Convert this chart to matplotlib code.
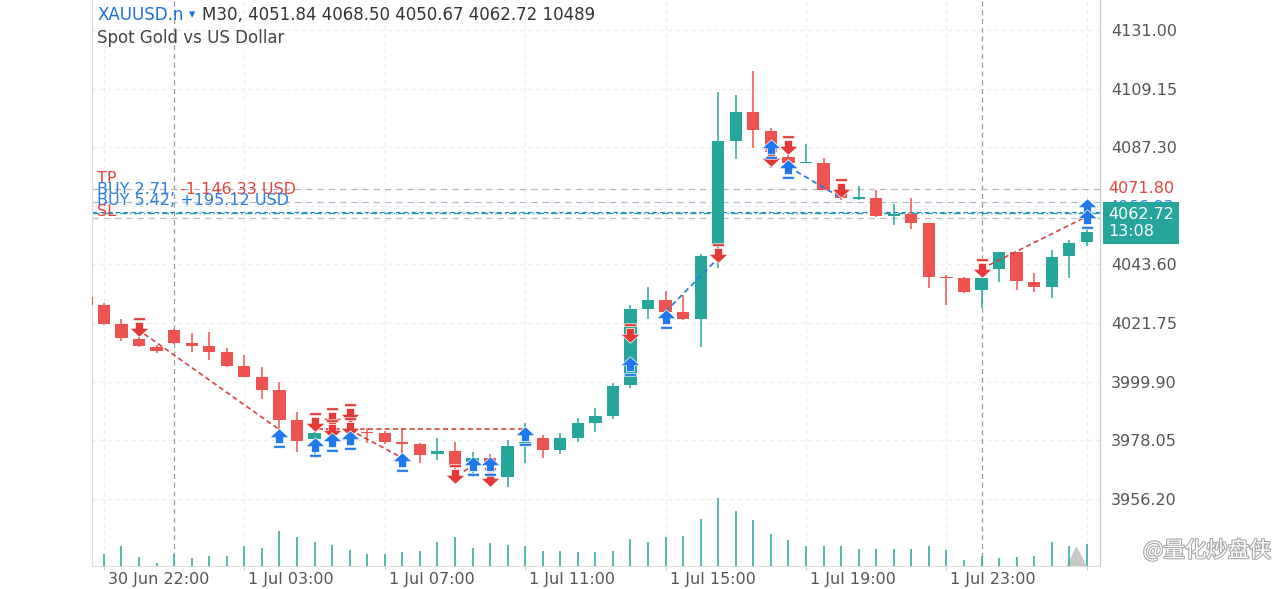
import matplotlib
matplotlib.use("Agg")
import matplotlib.pyplot as plt
import matplotlib.transforms as mtransforms
import matplotlib.patheffects as pe
from matplotlib.patches import Rectangle
from matplotlib.path import Path

# M30 bars, index -1 is the one cut off at the left edge
bars = list(range(-1, 57))
opens = [4031.6, 4028.5, 4021.3, 4015.8, 4012.7, 4019.2, 4014.2, 4013.2, 4011.1, 4005.8,
         4001.8, 3996.8, 3985.6, 3978.5, 3982.7, 3982.5, 3981.3, 3980.7, 3977.6, 3976.6,
         3973.0, 3974.1, 3970.1, 3971.6, 3964.3, 3976.3, 3978.8, 3974.5, 3978.8, 3984.6,
         3987.1, 3998.7, 4026.9, 4030.4, 4025.8, 4023.2, 4050.9, 4089.7, 4100.55, 4093.5,
         4083.55, 4081.3, 4081.55, 4070.7, 4068.1, 4068.3, 4061.7, 4062.4, 4059.0, 4039.05,
         4038.45, 4034.1, 4041.8, 4048.4, 4037.2, 4035.3, 4046.8, 4051.84]
highs = [4032.3, 4029.2, 4023.2, 4016.7, 4013.6, 4019.4, 4018.2, 4018.5, 4012.4, 4009.9,
         4005.5, 3999.9, 3988.7, 3981.3, 3983.5, 3983.5, 3982.5, 3981.5, 3982.5, 3977.2,
         3978.8, 3977.6, 3973.8, 3973.0, 3978.2, 3984.4, 3980.05, 3980.7, 3986.3, 3990.0,
         3999.3, 4028.5, 4035.3, 4033.8, 4032.2, 4047.5, 4108.0, 4106.8, 4115.8, 4094.4,
         4088.0, 4088.5, 4083.2, 4072.0, 4072.9, 4071.4, 4066.15, 4068.3, 4059.0, 4039.7,
         4038.8, 4040.0, 4048.4, 4048.4, 4040.3, 4049.0, 4052.7, 4057.0]
lows = [4028.0, 4021.0, 4015.2, 4012.9, 4010.5, 4013.8, 4011.1, 4008.0, 4005.5, 4001.5,
        3993.4, 3982.0, 3973.8, 3971.5, 3979.5, 3980.0, 3977.0, 3976.5, 3972.6, 3969.7,
        3970.7, 3967.0, 3964.5, 3960.6, 3960.6, 3969.5, 3971.4, 3973.0, 3977.6, 3981.3,
        3986.0, 3997.5, 4023.2, 4024.0, 4023.0, 4013.0, 4042.2, 4082.9, 4086.9, 4079.5,
        4079.0, 4081.3, 4071.4, 4067.5, 4067.6, 4061.4, 4058.3, 4056.7, 4034.7, 4028.5,
        4032.9, 4027.4, 4037.2, 4034.1, 4033.5, 4031.0, 4038.45, 4050.67]
closes = [4028.6, 4021.4, 4016.1, 4013.2, 4011.4, 4014.2, 4013.3, 4011.1, 4005.8, 4001.8,
          3996.8, 3985.6, 3977.9, 3980.7, 3981.2, 3981.5, 3980.7, 3977.6, 3976.7, 3972.6,
          3974.1, 3968.9, 3971.6, 3970.1, 3976.0, 3977.6, 3974.5, 3978.8, 3984.6, 3987.1,
          3998.3, 4026.9, 4030.4, 4026.0, 4023.2, 4046.9, 4089.7, 4100.55, 4093.7, 4085.6,
          4081.3, 4081.9, 4071.4, 4068.3, 4068.6, 4061.7, 4062.3, 4059.0, 4038.8, 4038.45,
          4033.2, 4038.45, 4048.4, 4037.55, 4035.3, 4046.5, 4051.7, 4055.8]
volumes = [6000, 5830, 9490, 4500, 1670, 5830, 3660, 5000, 5000, 9490,
           8660, 16650, 13820, 11660, 10320, 7830, 5830, 5830, 6660, 7160,
           11660, 13820, 8820, 10990, 10320, 9490, 7160, 7160, 6660, 6660,
           7160, 12820, 11660, 13820, 14490, 22480, 32800, 26310, 21980, 15320,
           12490, 9490, 9490, 9490, 8330, 8330, 8330, 8330, 9490, 7830,
           2830, 5000, 3660, 4500, 5000, 11660, 9490, 10489]

tick_bars = [0, 8, 16, 24, 32, 40, 48, 56]
tick_labels = ["30 Jun 22:00", "1 Jul 03:00", "1 Jul 07:00", "1 Jul 11:00",
               "1 Jul 15:00", "1 Jul 19:00", "1 Jul 23:00", ""]
day_breaks = [4, 50]
price_ticks = [3956.20, 3978.05, 3999.90, 4021.75, 4043.60, 4065.45, 4087.30, 4109.15, 4131.00]
hidden_ticks = [4065.45]

# deal markers
sell_bars = [2, 12, 13, 13, 14, 14, 20, 22, 30, 35, 38, 39, 42, 50]
sell_prices = [4020.3, 3984.9, 3986.6, 3982.3, 3988.25, 3983.0, 3965.6, 3964.4,
               4018.1, 4047.9, 4083.8, 4088.1, 4072.1, 4042.3]
buy_bars = [10, 12, 13, 14, 17, 21, 22, 24, 30, 32, 38, 39, 56, 56]
buy_prices = [3978.9, 3975.4, 3977.4, 3978.0, 3970.1, 3968.5, 3968.5, 3979.7,
              4005.8, 4023.3, 4086.6, 4079.2, 4064.8, 4060.6]

# dashed lines joining open/close of deals: x0, y0, x1, y1
red_links = [(2.3, 4017.7, 10, 3982.0), (12.2, 3982.3, 24, 3982.3), (14, 3982.0, 17, 3971.5),
             (20.5, 3966.5, 21, 3968.5), (50, 4042.0, 56, 4061.5)]
blue_links = [(32, 4026.0, 35, 4046.0), (39, 4080.0, 42, 4068.5)]

tp_price = 4071.80
entry_price = 4066.93
last_price = 4062.72
sl_price = 4060.90

UP = "#26a69a"
DOWN = "#ef5350"
BLUE = "#2a7de1"
RED = "#e0453f"
W, H = 1280, 589

fig = plt.figure(figsize=(W / 100, H / 100), dpi=100)
ax = fig.add_axes([92 / W, 23 / H, 1008 / W, 566 / H])

# volume underneath
vax = ax.twinx()
vax.vlines(bars, 0, volumes, color="#3aada2", lw=1.2)
vax.set_ylim(0, max(volumes) * 566 / 68)
vax.set_yticks([])
for s in vax.spines.values():
    s.set_visible(False)

ax.yaxis.tick_right()
ax.set_xlim(-0.68, 56.75)
ax.set_ylim(3931.2, 4142.2)

for i, o, h, l, c in zip(bars, opens, highs, lows, closes):
    col = UP if c >= o else DOWN
    ax.vlines(i, l, h, color=col, lw=1.1, zorder=2)
    ax.add_patch(Rectangle((i - 0.35, min(o, c)), 0.7, max(abs(c - o), 0.5),
                           facecolor=col, edgecolor="none", zorder=3))

ax.set_yticks(price_ticks)
ax.set_yticklabels(["" if p in hidden_ticks else f"{p:.2f}" for p in price_ticks])
ax.set_xticks(tick_bars)
ax.set_xticklabels(tick_labels)
ax.tick_params(axis="y", length=0, pad=8, labelsize=11.5, labelcolor="#555555")
ax.tick_params(axis="x", length=3, color="#cfcfcf", pad=1, labelsize=11.5, labelcolor="#555555")
shift = mtransforms.ScaledTranslation(4 / 100, 0, fig.dpi_scale_trans)
for lbl in ax.get_xticklabels():
    lbl.set_horizontalalignment("left")
    lbl.set_transform(lbl.get_transform() + shift)

ax.grid(True, color="#ececec", lw=0.8, ls=(0, (4, 3)))
ax.set_axisbelow(True)
for b in day_breaks:
    ax.axvline(b, color="#9a9a9a", lw=0.9, ls=(0, (4, 3)), zorder=1)

ax.spines["top"].set_visible(False)
ax.spines["left"].set_color("#dddddd")
ax.spines["right"].set_color("#c4c4c4")
ax.spines["bottom"].set_color("#dddddd")

# order levels
ax.axhline(tp_price, color="#b4b4b4", lw=0.9, ls=(0, (5, 4)), zorder=1)
ax.axhline(entry_price, color="#a8bdd4", lw=0.9, ls=(0, (5, 4)), zorder=1)
ax.axhline(last_price + 0.4, color=BLUE, lw=0.8, ls=(0, (4, 3)), zorder=1)
ax.axhline(last_price, color=UP, lw=1.0, ls=(0, (5, 2, 1, 2)), zorder=1)
ax.axhline(sl_price, color="#bdbdbd", lw=0.9, ls=(0, (5, 4)), zorder=1)

for x0, y0, x1, y1 in red_links:
    ax.plot([x0, x1], [y0, y1], color="#d9443f", lw=1.2, ls=(0, (3, 2)), zorder=4)
for x0, y0, x1, y1 in blue_links:
    ax.plot([x0, x1], [y0, y1], color=BLUE, lw=1.3, ls=(0, (3, 2)), zorder=4)

up_verts = [(0, 0.5), (0.5, 0.04), (0.2, 0.04), (0.2, -0.26), (-0.2, -0.26), (-0.2, 0.04),
            (-0.5, 0.04), (0, 0.5),
            (-0.3, -0.35), (0.3, -0.35), (0.3, -0.5), (-0.3, -0.5), (-0.3, -0.35)]
up_codes = [Path.MOVETO] + [Path.LINETO] * 6 + [Path.CLOSEPOLY] + \
           [Path.MOVETO] + [Path.LINETO] * 3 + [Path.CLOSEPOLY]
up_arrow = Path(up_verts, up_codes)
down_arrow = Path([(x, -y) for x, y in up_verts], up_codes)

ax.plot(sell_bars, sell_prices, ls="none", marker=down_arrow, ms=14, color="#e53935",
        mec="white", mew=0.5, zorder=5)
ax.plot(buy_bars, buy_prices, ls="none", marker=up_arrow, ms=14, color="#1f78ee",
        mec="white", mew=0.5, zorder=5)

# level captions on the left
lt = mtransforms.blended_transform_factory(ax.transAxes, ax.transData)
ax.text(0.005, 4075.8, "TP", transform=lt, color=RED, fontsize=11.5, va="center")
t_buy1 = ax.text(0.005, 4071.4, "BUY 2.71, ", transform=lt, color=BLUE, fontsize=11.5, va="center")
ax.annotate("-1 146.33 USD", xy=(1, 0), xycoords=t_buy1, va="bottom", ha="left",
            color=RED, fontsize=11.5)
ax.text(0.005, 4067.3, "BUY 5.42, +195.12 USD", transform=lt, color=BLUE, fontsize=11.5, va="center")
ax.text(0.005, 4063.5, "SL", transform=lt, color=RED, fontsize=11.5, va="center")

# price labels on the right
ax.text(1.008, tp_price, f"{tp_price:.2f}", transform=lt, color=RED, fontsize=11.5,
        va="center", clip_on=False)
ax.text(1.008, entry_price - 2.0, f"{entry_price:.2f}", transform=lt, color=BLUE, fontsize=11.5,
        va="center", clip_on=False, zorder=6)
ax.text(1.008, 4059.1, f"{last_price:.2f}\n13:08", transform=lt, color="white", fontsize=11.5,
        va="center", linespacing=1.15, clip_on=False, zorder=7,
        bbox=dict(boxstyle="square,pad=0.3", fc=UP, ec="none"))

# chart-shift marker
ax.plot([55.4], [0.018], transform=mtransforms.blended_transform_factory(ax.transData, ax.transAxes),
        marker="^", ms=13, color="#c8c8c8", clip_on=False)

# header
t1 = fig.text(97 / W, 1 - 15 / H, "XAUUSD.n", color="#1a6fdc", fontsize=12, va="center")
t2 = ax.annotate("▾", xy=(1, 0.5), xycoords=t1, xytext=(4, 0), textcoords="offset points",
                 va="center", color="#1a6fdc", fontsize=9)
ax.annotate("M30, 4051.84 4068.50 4050.67 4062.72 10489", xy=(1, 0.5), xycoords=t2,
            xytext=(5, 0), textcoords="offset points", va="center", color="#333333", fontsize=12)
fig.text(97 / W, 1 - 38 / H, "Spot Gold vs US Dollar", color="#444444", fontsize=12, va="center")

# watermark
fig.text(1143 / W, 1 - 551 / H, "@量化炒盘侠", family=["Noto Sans CJK SC", "DejaVu Sans"],
         color="white", fontsize=15.5, va="center",
         path_effects=[pe.withStroke(linewidth=1.6, foreground="#a8a8a8")])

fig.savefig("out.png", dpi=100, facecolor="white")
